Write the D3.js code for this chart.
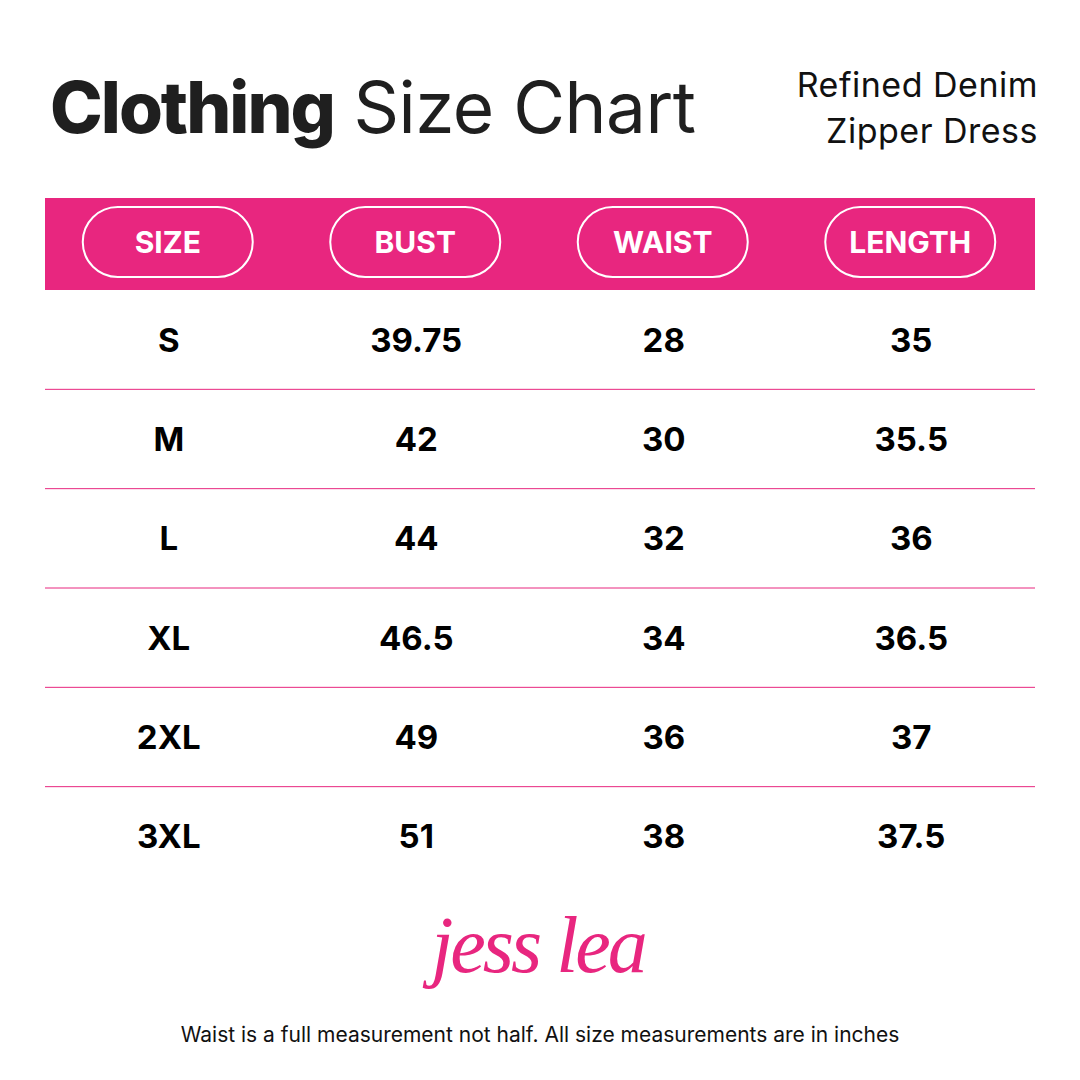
<!DOCTYPE html>
<html>
<head>
<meta charset="utf-8">
<script src="https://d3js.org/d3.v7.min.js"></script>
<style>body{margin:0;background:#fff}</style>
</head>
<body>
<div id="chart"></div>
<script>
// table data
var headers = ["SIZE", "BUST", "WAIST", "LENGTH"];
var sizes = ["S", "M", "L", "XL", "2XL", "3XL"];
var bust = ["39.75", "42", "44", "46.5", "49", "51"];
var waist = ["28", "30", "32", "34", "36", "38"];
var length = ["35", "35.5", "36", "36.5", "37", "37.5"];

var pink = "#E8267F";
var font = "Inter, 'Open Sans', sans-serif";

var svg = d3.select("#chart").append("svg")
  .attr("width", 1080).attr("height", 1080);

// title
var title = svg.append("text").attr("x", 50).attr("y", 133)
  .style("font-family", font).style("font-size", "71px").attr("fill", "#1f1f1f");
title.append("tspan").text("Clothing").style("font-weight", 800).attr("letter-spacing", "-2");
title.append("tspan").text(" Size Chart").style("font-weight", 400).attr("letter-spacing", "-0.5");

svg.selectAll(".sub").data(["Refined Denim", "Zipper Dress"]).enter().append("text")
  .attr("x", 1038).attr("y", function(d, i) { return 97 + i * 46; })
  .attr("text-anchor", "end").style("font-family", font).style("font-size", "34px")
  .attr("letter-spacing", "0.5").attr("fill", "#111").text(function(d) { return d; });

// scales
var x = d3.scaleBand().domain(d3.range(headers.length)).range([45, 1035]);
var y = d3.scaleBand().domain(d3.range(sizes.length)).range([290, 886]);

// header band
svg.append("rect").attr("x", 45).attr("y", 198).attr("width", 990).attr("height", 92).attr("fill", pink);
var hd = svg.selectAll(".hd").data(headers).enter().append("g")
  .attr("transform", function(d, i) { return "translate(" + (x(i) + x.bandwidth() / 2 - 1) + ",242)"; });
hd.append("rect").attr("x", -85).attr("y", -35).attr("width", 170).attr("height", 70).attr("rx", 35)
  .attr("fill", "none").attr("stroke", "#fff").attr("stroke-width", 2);
hd.append("text").attr("text-anchor", "middle").attr("dy", "0.36em")
  .style("font-family", font).style("font-size", "30px").style("font-weight", 700)
  .attr("fill", "#fff").text(function(d) { return d; });

// rows
var cols = [sizes, bust, waist, length];
sizes.forEach(function(s, r) {
  cols.forEach(function(c, k) {
    svg.append("text").attr("x", x(k) + x.bandwidth() / 2).attr("y", y(r) + y.bandwidth() / 2)
      .attr("dy", "0.36em").attr("text-anchor", "middle")
      .style("font-family", font).style("font-size", "33px").style("font-weight", 700)
      .attr("fill", "#000").text(c[r]);
  });
  if (r < sizes.length - 1) {
    svg.append("line").attr("x1", 45).attr("x2", 1035)
      .attr("y1", y(r) + y.bandwidth()).attr("y2", y(r) + y.bandwidth())
      .attr("stroke", pink).attr("stroke-width", 1);
  }
});

// logo
svg.append("text").attr("x", 538).attr("y", 972).attr("text-anchor", "middle")
  .style("font-family", "'Liberation Serif', serif").style("font-style", "italic")
  .style("font-size", "80px").attr("fill", pink)
  .attr("letter-spacing", "-3").text("jess lea");

svg.append("text").attr("x", 540).attr("y", 1042).attr("text-anchor", "middle")
  .style("font-family", font).style("font-size", "21px").attr("fill", "#111")
  .text("Waist is a full measurement not half. All size measurements are in inches");
</script>
</body>
</html>
